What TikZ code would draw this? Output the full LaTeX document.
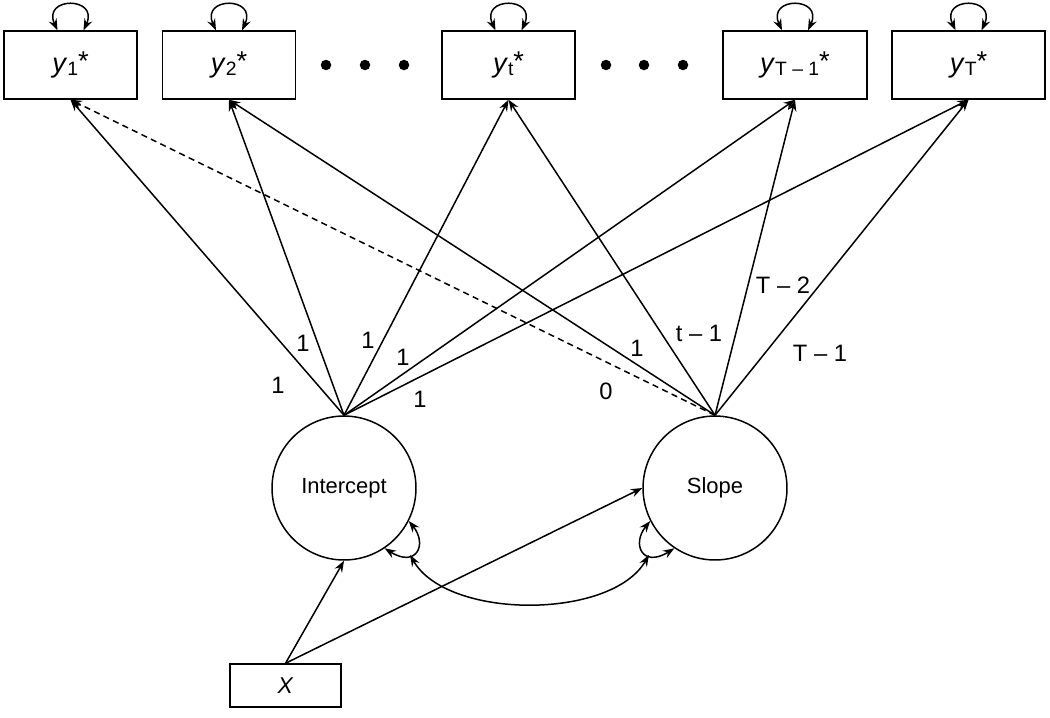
\documentclass[tikz,border=0pt]{standalone}
\usepackage{fontspec}
\setmainfont{Liberation Sans}
\usetikzlibrary{arrows.meta}

\newcommand{\ystar}[1]{\textit{y}\raisebox{-1.5pt}{\fontsize{11}{13}\selectfont #1}\raisebox{1pt}{*}}

\tikzset{
  >={Stealth[length=6.5pt,width=4.8pt,inset=2.2pt]},
  obs/.style={draw, line width=0.85pt, minimum width=2.66cm, minimum height=1.36cm,
    inner sep=0pt, font=\fontsize{15.5}{18}\selectfont},
  lat/.style={draw, circle, line width=0.85pt, minimum size=2.88cm, inner sep=0pt,
    font=\fontsize{12.5}{15}\selectfont},
  wt/.style={inner sep=0pt, font=\fontsize{13.5}{16}\selectfont},
  lnk/.style={->, line width=0.85pt},
  var/.style={<->, line width=0.85pt}
}

\begin{document}
\begin{tikzpicture}[x=0.02cm, y=0.02cm]
\useasboundingbox (0,0) rectangle (1050,-717);

% observed indicators
\node[obs] (y1) at (70.5,-65) {\ystar{1}};
\node[obs] (y2) at (229,-65) {\ystar{2}};
\node[obs] (yt) at (508.5,-65) {\ystar{t}};
\node[obs, minimum width=2.88cm] (yTm1) at (795,-65) {\ystar{T \textendash\ 1}};
\node[obs, minimum width=3.06cm] (yT) at (968.5,-65) {\ystar{T}};
\foreach \dx in {326,365,404,606,644,683}
  \fill (\dx,-65) circle (0.105cm);

% growth factors and covariate
\node[lat] (int) at (344,-488) {Intercept};
\node[lat] (slope) at (715,-488) {Slope};
\node[obs, minimum width=2.22cm, minimum height=0.86cm, font=\fontsize{13}{15}\selectfont]
  (x) at (285.5,-685.5) {\textit{X}};

%residual variances of the indicators
\foreach \n in {y1,y2,yt,yTm1,yT}
  \draw[var] ([xshift=-0.26cm]\n.north) to[out=115,in=65,distance=0.75cm] ([xshift=0.26cm]\n.north);

% loadings
\foreach \n in {y1,y2,yt,yTm1,yT}
  \draw[lnk] (int.north) -- (\n.south);
\draw[lnk, dash pattern=on 3.5pt off 2.5pt] (slope.north) -- (y1.south);
\foreach \n in {y2,yt,yTm1,yT}
  \draw[lnk] (slope.north) -- (\n.south);

\node[wt] (w1) at (278,-385) {1};
\node[wt] (w2) at (303,-343) {1};
\node[wt] (w3) at (368,-340) {1};
\node[wt] (w4) at (403,-357) {1};
\node[wt] (w5) at (420,-399) {1};
\node[wt] (s1) at (606,-391) {0};
\node[wt] (s2) at (637,-348) {1};
\node[wt] (s3) at (699,-333) {t \textendash\ 1};
\node[wt] (s4) at (783,-285) {T \textendash\ 2};
\node[wt] (s5) at (820,-353) {T \textendash\ 1};

% factor variances and covariance
\draw[var] (int.-27) to[out=-51,in=-32,out distance=0.6cm,in distance=0.75cm]
  coordinate[pos=.65] (iv) (int.-56);
\draw[var] (slope.207) to[out=-129,in=-148,out distance=0.6cm,in distance=0.75cm]
  coordinate[pos=.65] (sv) (slope.236);
\draw[var] (iv) to[out=-60,in=-120,distance=1.5cm] (sv);

% regressions on the covariate
\draw[lnk] (x.north) -- (int.south);
\draw[lnk] (x.north) -- (slope.west);
\end{tikzpicture}
\end{document}
